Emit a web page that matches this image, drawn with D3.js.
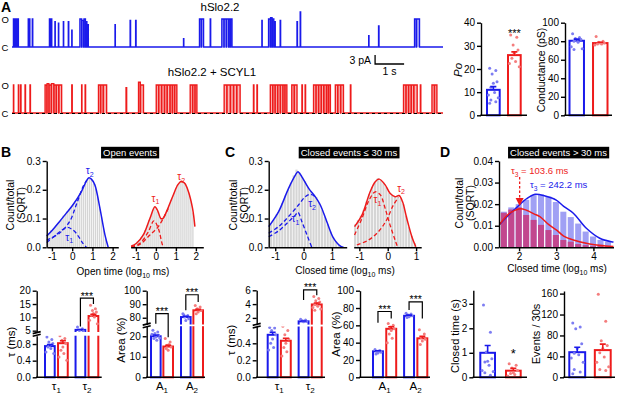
<!DOCTYPE html>
<html>
<head>
<meta charset="utf-8">
<script src="https://cdn.jsdelivr.net/npm/d3@7"></script>
<style>
  body { margin: 0; background: #fff; }
  svg { display: block; }
</style>
</head>
<body>
<svg id="fig" width="617" height="394"></svg>
<script>
const FONT = "'Liberation Sans', Arial, Helvetica, sans-serif";
const BLUE = "#1a1aeb", RED = "#ee1b1b";
const DOT_B = "#7d7df2", DOT_R = "#f47d7d";
const GRAY = "#d5d5d5", D_BLUE = "#a0a0f4", D_RED = "#c2478e";

// ---------------- A: single channel traces (open events, s) ----------------
const traceEnd = 14.85;
const unitaryPA = 9.3;
// [start s, end s, amplitude as fraction of unitary]
const blueEvents = [
  [0.05,0.09,1],[0.10,0.14,1],[0.15,0.18,1],[0.19,0.22,1],
  [0.56,0.575,1],[0.60,0.615,1],[0.70,0.715,1],
  [1.29,1.32,1],[1.33,1.37,1],
  [1.48,1.49,0.9],[1.60,1.61,0.85],[1.77,1.78,0.9],[1.94,1.955,0.9],[2.06,2.07,0.6],
  [2.34,2.40,1],[2.41,2.47,0.95],[2.48,2.53,1],[2.54,2.58,0.9],[2.59,2.63,0.8],
  [3.55,3.56,0.8],[4.07,4.085,0.95],[4.26,4.275,0.95],[5.91,5.92,0.3],
  [6.46,6.52,1],[6.53,6.60,1],[6.83,6.845,1],
  [7.23,7.30,1],[7.31,7.38,1],[7.39,7.46,1],[7.47,7.52,1],[7.53,7.58,1],
  [8.61,8.62,0.95],
  [8.84,8.90,1],[8.91,8.96,1.05],[8.97,9.02,1],[9.03,9.07,0.9],
  [9.24,9.255,0.95],[9.82,9.835,0.9],[9.93,9.945,1.25],
  [12.29,12.30,0.4],[12.63,12.645,0.75],
  [13.87,13.93,1],[13.94,14.04,1]
];
const redEvents = [
  [0.05,0.06,1],[0.22,0.235,1],[0.30,0.31,1],[0.45,0.465,1],[0.62,0.635,1],
  [1.14,1.20,1],[1.21,1.27,1.05],[1.28,1.35,1],[1.36,1.44,1.05],[1.45,1.52,1],[1.53,1.61,1],[1.62,1.71,1],
  [2.06,2.075,1],[2.40,2.41,1],[2.52,2.535,1],
  [2.98,3.05,1],[3.06,3.14,1],[3.15,3.26,1],
  [3.93,3.95,0.9],
  [4.36,4.42,1.1],[4.43,4.53,1],
  [4.97,5.05,1],[5.06,5.15,1],[5.16,5.25,1],[5.26,5.34,1],[5.35,5.44,1],[5.45,5.52,1],[5.53,5.60,1],[5.61,5.68,1],
  [6.14,6.22,1],[6.23,6.30,1],[6.31,6.37,1],
  [7.31,7.40,1],[7.41,7.52,1],[7.53,7.63,1],[7.64,7.74,1],[7.75,7.86,1],
  [8.32,8.335,1],[8.44,8.455,1],
  [8.90,8.98,1],[8.99,9.06,1],[9.07,9.15,1],[9.16,9.24,1],[9.25,9.33,1],[9.34,9.40,1],[9.41,9.47,1],
  [9.64,9.72,1],[9.73,9.82,1],
  [9.99,10.005,1],[10.10,10.115,1],
  [10.39,10.47,1],[10.48,10.56,1],[10.57,10.65,1],[10.66,10.74,1],[10.75,10.83,1],[10.84,10.90,1],[10.91,10.97,1],
  [11.14,11.22,1],[11.23,11.32,1],[11.33,11.42,1],
  [11.66,11.675,1],
  [13.49,13.57,1],[13.58,13.66,1],[13.67,13.75,1],[13.76,13.84,1],[13.85,13.96,1],
  [14.07,14.085,1],
  [14.47,14.55,1],[14.56,14.64,1]
];

// Po and conductance
const poBlue = [20.3, 19.3, 17.8, 14.5, 13.8, 12.1, 9.8, 8.8, 7.6, 6.6, 5.9, 5.2];
const poRed = [34.7, 33.7, 30.4, 28.2, 26.8, 24.6, 23.2, 22.4, 21.0];
const poMean = [[11.0, 26.0]], poSem = [[1.4, 1.4]];
const condBlue = [88, 84, 83, 82, 81, 80, 79, 74, 72, 71];
const condRed = [85, 80, 79, 78, 78, 77, 77, 76];
const condMean = [[80.5, 78.0]], condSem = [[1.8, 0.9]];

// ---------------- B/C/D: dwell-time histograms (sqrt count/total) ----------------
const binW = 0.1;
const openBlueStart = -1.3;
const openBlueHist = [0.045,0.05,0.06,0.065,0.07,0.08,0.088,0.095,0.11,0.115,0.125,0.13,0.14,0.15,0.155,
  0.17,0.18,0.195,0.21,0.22,0.235,0.24,0.235,0.22,0.205,0.175,0.14,0.105,0.065,0.03];
const openRedStart = -1.2;
const openRedHist = [0.01,0.012,0.02,0.025,0.035,0.045,0.06,0.075,0.095,0.11,0.13,0.135,0.125,0.115,0.1,
  0.105,0.115,0.13,0.145,0.165,0.18,0.195,0.21,0.22,0.23,0.225,0.22,0.21,0.19,0.16,0.12];
const closedBlueStart = -1.2;
const closedBlueHist = [0.08,0.095,0.115,0.13,0.155,0.18,0.2,0.225,0.25,0.27,0.26,0.245,0.23,0.21,0.195,
  0.18,0.175,0.155,0.13,0.105,0.08,0.055,0.035,0.02,0.008];
const closedRedStart = -1.2;
const closedRedHist = [0.08,0.095,0.11,0.13,0.16,0.185,0.21,0.225,0.24,0.235,0.225,0.21,0.19,0.18,0.175,
  0.18,0.17,0.15,0.11,0.07,0.04,0.015];
const longStart = 1.5, longW = 0.2;
const longBlueHist = [0.0165,0.0185,0.02,0.022,0.0242,0.0245,0.0235,0.021,0.0165,0.014,0.011,0.0073,0.005,0.0034,0.0026];
const longRedHist = [0.016,0.0175,0.0185,0.015,0.0127,0.0104,0.008,0.0057,0.0034,0.0026,0.0015,0.001,0.0005,0.0012,0.0005];

// fitted curves [log10 ms, sqrt(count/total)]
const openBlueFit = [[-1.26,0.039],[-0.95,0.062],[-0.63,0.089],[-0.3,0.118],[0.03,0.147],[0.45,0.193],[0.7,0.23],
  [0.83,0.242],[0.95,0.237],[1.12,0.217],[1.37,0.136],[1.62,0.043],[1.78,0]];
const openBlueT1 = [[-1.26,0.017],[-0.8,0.043],[-0.5,0.06],[-0.22,0.069],[0.0,0.062],[0.2,0.049],[0.4,0.028],[0.53,0.014],[0.7,0]];
const openBlueT2 = [[-1.26,0.025],[-0.63,0.049],[-0.13,0.089],[0.2,0.147],[0.53,0.21],[0.72,0.233]];
const openRedFit = [[-1.24,0.004],[-0.97,0.014],[-0.63,0.043],[-0.3,0.1],[-0.05,0.141],[0.1,0.125],[0.25,0.1],[0.35,0.1],
  [0.53,0.124],[0.87,0.182],[1.1,0.218],[1.28,0.23],[1.45,0.222],[1.62,0.195],[1.83,0.136],[1.95,0.072]];
const openRedT1 = [[-1.24,0.002],[-0.8,0.014],[-0.38,0.054],[-0.1,0.092],[0.12,0.066],[0.33,0.008],[0.4,0]];
const openRedT2 = [[-1.24,0],[-0.8,0.01],[-0.3,0.043],[0.12,0.072],[0.45,0.112],[0.62,0.135]];
const closedBlueFit = [[-1.23,0.072],[-0.88,0.124],[-0.53,0.205],[-0.29,0.251],[-0.2,0.263],[-0.06,0.245],[0.18,0.205],
  [0.41,0.176],[0.59,0.147],[0.82,0.089],[1.06,0.031],[1.33,0.002],[1.41,0]];
const closedBlueT1 = [[-1.23,0.037],[-0.88,0.057],[-0.53,0.089],[-0.29,0.112],[-0.2,0.122],[-0.06,0.089],[0.12,0.043],[0.29,0]];
const closedBlueT2 = [[-1.23,0.049],[-0.88,0.072],[-0.53,0.107],[-0.18,0.147],[0.06,0.176],[0.24,0.184],[0.41,0.176]];
const closedRedFit = [[-1.17,0.072],[-0.91,0.112],[-0.62,0.193],[-0.44,0.228],[-0.3,0.237],[-0.09,0.217],[0.08,0.188],
  [0.26,0.176],[0.4,0.18],[0.52,0.159],[0.67,0.101],[0.85,0.037],[0.99,0.002]];
const closedRedT1 = [[-1.17,0.043],[-0.91,0.1],[-0.68,0.159],[-0.44,0.193],[-0.26,0.182],[-0.09,0.135],[0.08,0.078],[0.26,0.025],[0.35,0]];
const closedRedT2 = [[-1.09,0.008],[-0.68,0.025],[-0.33,0.054],[-0.04,0.095],[0.2,0.147],[0.38,0.173]];
const longBlueFit = [[1.47,0.0105],[1.75,0.0155],[2.0,0.0195],[2.2,0.0225],[2.43,0.0246],[2.7,0.0238],[3.0,0.0219],
  [3.2,0.019],[3.46,0.0158],[3.81,0.0088],[4.17,0.0042],[4.48,0.0026],[4.54,0.0025]];
const longRedFit = [[1.47,0.0105],[1.75,0.0158],[2.0,0.0178],[2.2,0.0172],[2.4,0.0155],[2.56,0.0142],[2.8,0.0105],
  [3.01,0.008],[3.2,0.0052],[3.46,0.0034],[3.9,0.0015],[4.2,0.0008],[4.54,0.0004]];
const tau3Red = 103.6, tau3Blue = 242.2;

// ---------------- bottom row: bar charts ----------------
const openTauGroups = ["τ1", "τ2"];
const openTauBlue = [[0.97,0.91,0.85,0.81,0.77,0.73,0.69,0.61,0.57], [6.4,5.75,5.1,4.75]];
const openTauRed = [[1.0,0.93,0.89,0.81,0.73,0.65,0.57,0.49,0.41], [14.5,13.25,12.6,12,11.4,10.75,10.1,8.9,7.6]];
const openTauMean = [[0.75, 0.82], [5.3, 10.5]], openTauSem = [[0.04, 0.06], [0.15, 0.6]];
const openAreaGroups = ["A1", "A2"];
const openAreaBlue = [[22.9,22.1,21.3,20.5,19.7,18.9,18.0,21.0,19.2], [83,81.7,80.5,79.3,78,82]];
const openAreaRed = [[18.9,17.2,15.6,14.8,13.2,14.0,16.0], [89,87.9,86.7,85.4,84.2,83]];
const openAreaMean = [[20, 15], [80.5, 85.5]], openAreaSem = [[0.6, 0.6], [0.6, 0.7]];
const closedTauBlue = [[0.62,0.58,0.55,0.5,0.45,0.4,0.35,0.32], [1.8,1.7,1.6,1.5,1.45]];
const closedTauRed = [[0.6,0.55,0.5,0.45,0.4,0.35,0.3,0.25], [5.1,4.8,4.5,4.3,4.1,3.9,3.7,3.5,3.3,3.1]];
const closedTauMean = [[0.5, 0.43], [1.5, 3.95]], closedTauSem = [[0.03, 0.03], [0.05, 0.2]];
const closedAreaBlue = [[32,31,30,29,28,27,30.5], [74,73,72,71,70,69]];
const closedAreaRed = [[62,60,58,56,54,50,45,40], [55,50,46,44,42,38]];
const closedAreaMean = [[30, 56], [71, 45]], closedAreaSem = [[0.6, 2.3], [0.8, 2.2]];
const longTimeBlue = [2.95,1.84,1.03,0.76,0.65,0.62,0.49,0.28,0.24,0.19,0.08];
const longTimeRed = [0.55,0.49,0.38,0.28,0.19,0.15,0.11,0.05];
const longTimeMean = [[1.0, 0.27]], longTimeSem = [[0.3, 0.1]];
const eventsBlue = [104,96,93,64,55,46,43,37,29,15,10,7];
const eventsRed = [159,107,70,61,55,47,39,29,20,15,13];
const eventsMean = [[48, 52]], eventsSem = [[9.5, 11.5]];

// ======================================================================
const svg = d3.select("#fig").attr("font-family", FONT);
svg.append("rect").attr("width", 617).attr("height", 394).attr("fill", "#fff");

function txt(x, y, s, o = {}) {
  return svg.append("text").attr("x", x).attr("y", y).text(s)
    .attr("font-size", o.size || 10).attr("fill", o.fill || "#000")
    .attr("text-anchor", o.anchor || "middle")
    .attr("font-weight", o.weight || null).attr("font-style", o.style || null);
}
// text with subscripts: parts = [[str, isSub], ...]
function subText(x, y, parts, o = {}) {
  const t = svg.append("text").attr("x", x).attr("y", y)
    .attr("font-size", o.size || 10).attr("fill", o.fill || "#000")
    .attr("text-anchor", o.anchor || "middle");
  let down = false;
  parts.forEach(([s, sub]) => {
    const sp = t.append("tspan").text(s);
    if (sub) { sp.attr("font-size", "70%"); if (!down) sp.attr("dy", 2.5); down = true; }
    else if (down) { sp.attr("dy", -2.5); down = false; }
  });
  return t;
}
function vtxt(x, y, s, o = {}) {
  return txt(x, y, s, o).attr("transform", `rotate(-90,${x},${y})`);
}
function styleAxis(g, fs) {
  g.attr("font-family", FONT).attr("font-size", fs || 10);
  g.select(".domain").attr("stroke-width", 1.4);
  g.selectAll(".tick line").attr("stroke-width", 1.4);
  g.selectAll(".tick text").attr("fill", "#000");
}
function blackBox(cx, s) {
  const t = txt(cx, 156, s, { size: 9.5, fill: "#fff" });
  const b = t.node().getBBox();
  svg.insert("rect", () => t.node()).attr("x", b.x - 2).attr("y", 146.8)
    .attr("width", b.width + 4).attr("height", 11.6).attr("fill", "#000");
}

// panel letters
txt(1, 11.5, "A", { size: 14, weight: "bold", anchor: "start" });
txt(1, 157, "B", { size: 14, weight: "bold", anchor: "start" });
txt(225, 157, "C", { size: 14, weight: "bold", anchor: "start" });
txt(440, 157, "D", { size: 14, weight: "bold", anchor: "start" });

// ---------------- traces ----------------
const tx = d3.scaleLinear().domain([0, traceEnd]).range([12, 443]);
function trace(events, cY, oY, col, dashed) {
  const y = d3.scaleLinear().domain([0, unitaryPA]).range([cY, oY]);
  const pts = [[0, 0]];
  events.forEach(([s, e, a]) => { pts.push([s, 0], [s, a * unitaryPA], [e, a * unitaryPA], [e, 0]); });
  pts.push([traceEnd, 0]);
  svg.append("path").attr("d", d3.area().x(d => tx(d[0])).y0(cY).y1(d => y(d[1]))(pts))
    .attr("fill", col).attr("fill-opacity", 0.3);
  svg.append("path").attr("d", d3.line().x(d => tx(d[0])).y(d => y(d[1]))(pts))
    .attr("fill", "none").attr("stroke", col).attr("stroke-width", 1.4);
  if (dashed) {
    svg.append("line").attr("x1", tx(0)).attr("x2", tx(traceEnd)).attr("y1", cY + 0.5).attr("y2", cY + 0.5)
      .attr("stroke", "#000").attr("stroke-width", 1).attr("stroke-dasharray", "3,3");
  }
  txt(1.5, oY + 4, "O", { size: 9.5, anchor: "start" });
  txt(1.5, cY + 4, "C", { size: 9.5, anchor: "start" });
  return y;
}
const yTraceB = trace(blueEvents, 47, 19, BLUE, false);
trace(redEvents, 113, 85, RED, true);
txt(220, 11, "hSlo2.2", { size: 11.5 });
txt(212, 76, "hSlo2.2 + SCYL1", { size: 11.5 });
// scale bar 3 pA / 1 s
const sb = svg.append("g").attr("transform", "translate(0,17)");
sb.append("path").attr("d", `M${tx(12.51)},${yTraceB(3)}V${yTraceB(0)}H${tx(13.51)}`)
  .attr("fill", "none").attr("stroke", "#000").attr("stroke-width", 1.3);
txt(tx(12.51) - 4, 64, "3 pA", { size: 10.5, anchor: "end" });
txt(tx(13.01), 75, "1 s", { size: 10.5 });

// ---------------- bar charts ----------------
const JIT = [-3, 2, -1, 3, 0, -2, 1, -4, 4, -2, 2, -3, 1, 3];
function barChart(c) {
  const g = svg.append("g");
  const xg = d3.scaleBand().domain(c.groups).range(c.range).paddingInner(c.gPad || 0);
  const xs = d3.scaleBand().domain([0, 1]).range([0, xg.bandwidth()]).paddingInner(c.sPad);
  const y = c.y, bw = xs.bandwidth();
  const cxOf = (gi, s) => xg(c.groups[gi]) + xs(s) + bw / 2;
  c.groups.forEach((grp, gi) => {
    [0, 1].forEach(s => {
      const col = s ? RED : BLUE, dc = s ? DOT_R : DOT_B;
      const x0 = xg(grp) + xs(s), cx = x0 + bw / 2;
      const m = c.mean[gi][s], e = c.sem[gi][s];
      g.append("rect").attr("x", x0 + 1).attr("width", bw - 2).attr("y", y(m)).attr("height", y(0) - y(m))
        .attr("fill", "#fff").attr("stroke", col).attr("stroke-width", 2);
      g.append("g").selectAll("circle").data(c.dots[s][gi]).join("circle")
        .attr("cx", (d, i) => cx + JIT[i % JIT.length] * bw / 12)
        .attr("cy", d => y(d)).attr("r", 1.5).attr("fill", dc);
      g.append("path").attr("d", `M${cx},${y(m)}V${y(m + e)}M${cx - 3},${y(m + e)}H${cx + 3}`)
        .attr("stroke", col).attr("stroke-width", 1.6).attr("fill", "none");
    });
    if (c.labels) subText(xg(grp) + xg.bandwidth() / 2, 390, c.labels[gi], { size: 11.5 });
  });
  // broken-axis gap across the bars
  if (c.brk) {
    g.append("rect").attr("x", c.ax + 1).attr("width", c.x1 - c.ax - 1)
      .attr("y", c.brk[0]).attr("height", c.brk[1] - c.brk[0]).attr("fill", "#fff");
  }
  c.axes.forEach(a => {
    g.append("g").attr("transform", `translate(${c.ax},0)`)
      .call(d3.axisLeft(a.s).tickValues(a.t).tickFormat(a.f || String).tickSize(4).tickSizeOuter(0).tickPadding(2))
      .call(styleAxis);
  });
  g.append("path").attr("d", `M${c.ax - 0.7},${y(0)}H${c.x1}`).attr("stroke", "#000").attr("stroke-width", 1.4);
  if (c.brk) {
    const by = (c.brk[0] + c.brk[1]) / 2;
    g.append("path").attr("d", `M${c.ax - 4},${by - 0.2}L${c.ax + 4},${by - 2.2}M${c.ax - 4},${by + 2.4}L${c.ax + 4},${by + 0.4}`)
      .attr("stroke", "#000").attr("stroke-width", 1.6);
  }
  (c.brackets || []).forEach(b => {
    const xl = cxOf(b.g, 0), xr = cxOf(b.g, 1);
    g.append("path").attr("d", `M${xl},${y(b.l)}V${y(b.top)}H${xr}V${y(b.r)}`)
      .attr("fill", "none").attr("stroke", "#000").attr("stroke-width", 1.2);
    txt((xl + xr) / 2, y(b.top) + 1.5, "***", { size: 10.5 });
  });
  (c.stars || []).forEach(st => txt(cxOf(0, st.s), y(st.v), st.t, { size: st.size || 11 }));
  if (c.title) vtxt(c.title.x, c.title.y, c.title.t, { size: c.title.size || 11.5, style: c.title.style });
  return { y, cxOf };
}
function brokenY(lo, hi) {
  return v => (v <= lo.domain()[1] ? lo(v) : hi(v));
}

// Po
const yPo = d3.scaleLinear().domain([0, 40]).range([115.3, 22.7]);
barChart({ groups: [""], range: [486, 521.7], sPad: 0.3, y: yPo, ax: 481, x1: 527,
  mean: poMean, sem: poSem, dots: [[poBlue], [poRed]],
  axes: [{ s: yPo, t: [0, 10, 20, 30, 40] }],
  stars: [{ s: 1, v: 34, t: "***" }] });
svg.append("text").attr("transform", "translate(462,70) rotate(-90)").attr("text-anchor", "middle")
  .attr("font-size", 11.5).attr("font-style", "italic").text("Po");
// Conductance
const yG = d3.scaleLinear().domain([0, 100]).range([115.3, 22.7]);
barChart({ groups: [""], range: [568.5, 608.5], sPad: 0.3, y: yG, ax: 565, x1: 612,
  mean: condMean, sem: condSem, dots: [[condBlue], [condRed]],
  axes: [{ s: yG, t: [0, 20, 40, 60, 80, 100] }],
  title: { x: 545, y: 70, t: "Conductance (pS)", size: 10.5 } });

// B: open tau
const otLo = d3.scaleLinear().domain([0, 1]).range([377.3, 335.7]);
const otHi = d3.scaleLinear().domain([4.5, 20]).range([332, 290.7]);
barChart({ groups: openTauGroups, range: [44, 99.3], gPad: 0.19, sPad: 0.1, y: brokenY(otLo, otHi),
  ax: 36.7, x1: 101.7, brk: [332, 335.7],
  mean: openTauMean, sem: openTauSem, dots: [openTauBlue, openTauRed],
  axes: [{ s: otLo, t: [0, 0.4, 0.8], f: d3.format(".1f") }, { s: otHi, t: [5, 10, 15, 20] }],
  labels: [[["τ", 0], ["1", 1]], [["τ", 0], ["2", 1]]],
  brackets: [{ g: 1, top: 17.2, l: 6.6, r: 15 }],
  title: { x: 15, y: 342, t: "τ (ms)" } });
// B: open area
const oaLo = d3.scaleLinear().domain([0, 25]).range([377.3, 326]);
const oaHi = d3.scaleLinear().domain([75, 100]).range([324.5, 290.7]);
barChart({ groups: openAreaGroups, range: [150, 204], gPad: 0.2, sPad: 0.06, y: brokenY(oaLo, oaHi),
  ax: 146.7, x1: 205, brk: [324.5, 326.2],
  mean: openAreaMean, sem: openAreaSem, dots: [openAreaBlue, openAreaRed],
  axes: [{ s: oaLo, t: [0, 10, 20] }, { s: oaHi, t: [80, 90, 100] }],
  labels: [[["A", 0], ["1", 1]], [["A", 0], ["2", 1]]],
  brackets: [{ g: 0, top: 83, l: 75.6, r: 19.5 }, { g: 1, top: 97, l: 85.5, r: 91.6 }],
  title: { x: 125, y: 340, t: "Area (%)" } });

// C: closed tau
const ctLo = d3.scaleLinear().domain([0, 0.6]).range([377.3, 326.3]);
const ctHi = d3.scaleLinear().domain([1, 6]).range([324.8, 290.3]);
barChart({ groups: openTauGroups, range: [266.7, 322.7], gPad: 0.19, sPad: 0.1, y: brokenY(ctLo, ctHi),
  ax: 256.7, x1: 325, brk: [324.6, 326.5],
  mean: closedTauMean, sem: closedTauSem, dots: [closedTauBlue, closedTauRed],
  axes: [{ s: ctLo, t: [0, 0.2, 0.4], f: d3.format(".1f") }, { s: ctHi, t: [2, 4, 6] }],
  labels: [[["τ", 0], ["1", 1]], [["τ", 0], ["2", 1]]],
  brackets: [{ g: 1, top: 6.05, l: 4.6, r: 5.3 }],
  title: { x: 235, y: 340, t: "τ (ms)" } });
// C: closed area
const caY = d3.scaleLinear().domain([0, 100]).range([377.3, 290.7]);
barChart({ groups: openAreaGroups, range: [372, 428.3], gPad: 0.19, sPad: 0.1, y: caY,
  ax: 360, x1: 430,
  mean: closedAreaMean, sem: closedAreaSem, dots: [closedAreaBlue, closedAreaRed],
  axes: [{ s: caY, t: [0, 20, 40, 60, 80, 100] }],
  labels: [[["A", 0], ["1", 1]], [["A", 0], ["2", 1]]],
  brackets: [{ g: 0, top: 76, l: 63, r: 68 }, { g: 1, top: 87, l: 77.7, r: 68 }],
  title: { x: 340, y: 334, t: "Area (%)" } });

// D: long closed time and events
const ltY = d3.scaleLinear().domain([0, 3.55]).range([377.3, 290.3]);
barChart({ groups: [""], range: [479.3, 521.7], sPad: 0.35, y: ltY, ax: 473.3, x1: 527,
  mean: longTimeMean, sem: longTimeSem, dots: [[longTimeBlue], [longTimeRed]],
  axes: [{ s: ltY, t: [0, 1, 2, 3] }],
  stars: [{ s: 1, v: 0.8, t: "*", size: 13 }],
  title: { x: 459, y: 336, t: "Closed time (s)", size: 11 } });
const evY = d3.scaleLinear().domain([0, 165]).range([377.3, 291]);
barChart({ groups: [""], range: [568.3, 611.7], sPad: 0.3, y: evY, ax: 564, x1: 615,
  mean: eventsMean, sem: eventsSem, dots: [[eventsBlue], [eventsRed]],
  axes: [{ s: evY, t: [0, 40, 80, 120, 160] }],
  title: { x: 540, y: 334, t: "Events / 30s", size: 11 } });

// ---------------- histograms ----------------
function hist(c) {
  const x = d3.scaleLinear().domain(c.xd).range(c.xr);
  const y = c.y;
  c.bars.forEach(b => {
    svg.append("g").selectAll("rect").data(b.h).join("rect")
      .attr("x", (d, i) => x(b.start + i * b.w) + 0.35)
      .attr("width", (d, i) => x(b.start + (i + 1) * b.w) - x(b.start + i * b.w) - (b.gap || 0.7))
      .attr("y", d => y(d)).attr("height", d => y(0) - y(d)).attr("fill", b.fill);
  });
  const line = d3.line().x(d => x(d[0])).y(d => y(d[1])).curve(d3.curveCatmullRom.alpha(0.5));
  c.curves.forEach(cv => {
    svg.append("path").attr("d", line(cv.p)).attr("fill", "none").attr("stroke", cv.col)
      .attr("stroke-width", cv.dash ? 1.3 : 1.5).attr("stroke-dasharray", cv.dash ? "4,2.5" : null);
  });
  svg.append("g").attr("transform", `translate(0,${y(0)})`)
    .call(d3.axisBottom(x).tickValues(c.xt).tickFormat(String).tickSize(4).tickSizeOuter(0).tickPadding(2))
    .call(styleAxis);
  (c.tau || []).forEach(t => subText(x(t.x), y(t.y) + 3.5, [["τ", 0], [t.n, 1]], { size: 10, fill: t.col }));
  return x;
}
const yH = d3.scaleLinear().domain([0, 0.3]).range([247.3, 161]);
function yAxisH(ax, y, ticks, fmt) {
  svg.append("g").attr("transform", `translate(${ax},0)`)
    .call(d3.axisLeft(y).tickValues(ticks).tickFormat(d3.format(fmt)).tickSize(4).tickSizeOuter(0).tickPadding(2))
    .call(styleAxis);
}
function countLabel(x, yc) {
  vtxt(x, yc, "Count/total", { size: 10.5 });
  vtxt(x + 10.5, yc, "(SQRT)", { size: 10.5 });
}

// B open
hist({ xd: [-1.26, 2.28], xr: [46.7, 118.3], y: yH, xt: [-1, 0, 1, 2],
  bars: [{ start: openBlueStart, w: binW, h: openBlueHist, fill: GRAY }],
  curves: [{ p: openBlueT1, col: BLUE, dash: 1 }, { p: openBlueT2, col: BLUE, dash: 1 }, { p: openBlueFit, col: BLUE }],
  tau: [{ x: 0.87, y: 0.266, n: "2", col: BLUE }, { x: -0.15, y: 0.035, n: "1", col: BLUE }] });
hist({ xd: [-1.26, 2.37], xr: [130.7, 203.3], y: yH, xt: [-1, 0, 1, 2],
  bars: [{ start: openRedStart, w: binW, h: openRedHist, fill: GRAY }],
  curves: [{ p: openRedT1, col: RED, dash: 1 }, { p: openRedT2, col: RED, dash: 1 }, { p: openRedFit, col: RED }],
  tau: [{ x: -0.02, y: 0.17, n: "1", col: RED }, { x: 1.27, y: 0.245, n: "2", col: RED }] });
yAxisH(46.7, yH, [0, 0.1, 0.2, 0.3], ".1f");
countLabel(14, 205);
blackBox(130, "Open events");
subText(123, 275, [["Open time (log", 0], ["10", 1], [" ms)", 0]], { size: 10 });

// C closed <= 30 ms
hist({ xd: [-1.23, 1.52], xr: [268.7, 346.7], y: yH, xt: [-1, 0, 1],
  bars: [{ start: closedBlueStart, w: binW, h: closedBlueHist, fill: GRAY }],
  curves: [{ p: closedBlueT1, col: BLUE, dash: 1 }, { p: closedBlueT2, col: BLUE, dash: 1 }, { p: closedBlueFit, col: BLUE }],
  tau: [{ x: -0.29, y: 0.1, n: "1", col: BLUE }, { x: 0.3, y: 0.152, n: "2", col: BLUE }] });
hist({ xd: [-1.2, 1.18], xr: [353.7, 421.2], y: yH, xt: [-1, 0, 1],
  bars: [{ start: closedRedStart, w: binW, h: closedRedHist, fill: GRAY }],
  curves: [{ p: closedRedT1, col: RED, dash: 1 }, { p: closedRedT2, col: RED, dash: 1 }, { p: closedRedFit, col: RED }],
  tau: [{ x: -0.36, y: 0.165, n: "1", col: RED }, { x: 0.47, y: 0.205, n: "2", col: RED }] });
yAxisH(268.7, yH, [0, 0.1, 0.2, 0.3], ".1f");
countLabel(237, 205);
blackBox(349, "Closed events \u2264 30 ms");
subText(345, 274, [["Closed time (log", 0], ["10", 1], [" ms)", 0]], { size: 10 });

// D closed > 30 ms
const yL = d3.scaleLinear().domain([0, 0.04]).range([247.3, 161]);
const xL = hist({ xd: [1.46, 4.54], xr: [499, 613.5], y: yL, xt: [2, 3, 4],
  bars: [{ start: longStart, w: longW, h: longBlueHist, fill: D_BLUE, gap: 1.4 },
         { start: longStart, w: longW, h: longRedHist, fill: D_RED, gap: 1.4 }],
  curves: [{ p: longBlueFit, col: BLUE }, { p: longRedFit, col: RED }] });
yAxisH(499, yL, [0, 0.01, 0.02, 0.03, 0.04], ".2f");
countLabel(463, 203);
blackBox(558.5, "Closed events > 30 ms");
subText(557, 272, [["Closed time (log", 0], ["10", 1], [" ms)", 0]], { size: 10 });
// tau3 annotations
subText(511, 174, [["τ", 0], ["3", 1], [" = " + tau3Red + " ms", 0]], { size: 9.5, fill: RED, anchor: "start" });
subText(530, 188, [["τ", 0], ["3", 1], [" = " + tau3Blue + " ms", 0]], { size: 9.5, fill: BLUE, anchor: "start" });
const ax3 = xL(Math.log10(tau3Red));
svg.append("line").attr("x1", ax3).attr("x2", ax3).attr("y1", 177).attr("y2", 199)
  .attr("stroke", RED).attr("stroke-width", 1.3).attr("stroke-dasharray", "2.5,2");
svg.append("path").attr("d", `M${ax3 - 4},${198}L${ax3 + 4},${198}L${ax3},${yL(0.0192)}Z`).attr("fill", RED);
</script>
</body>
</html>
